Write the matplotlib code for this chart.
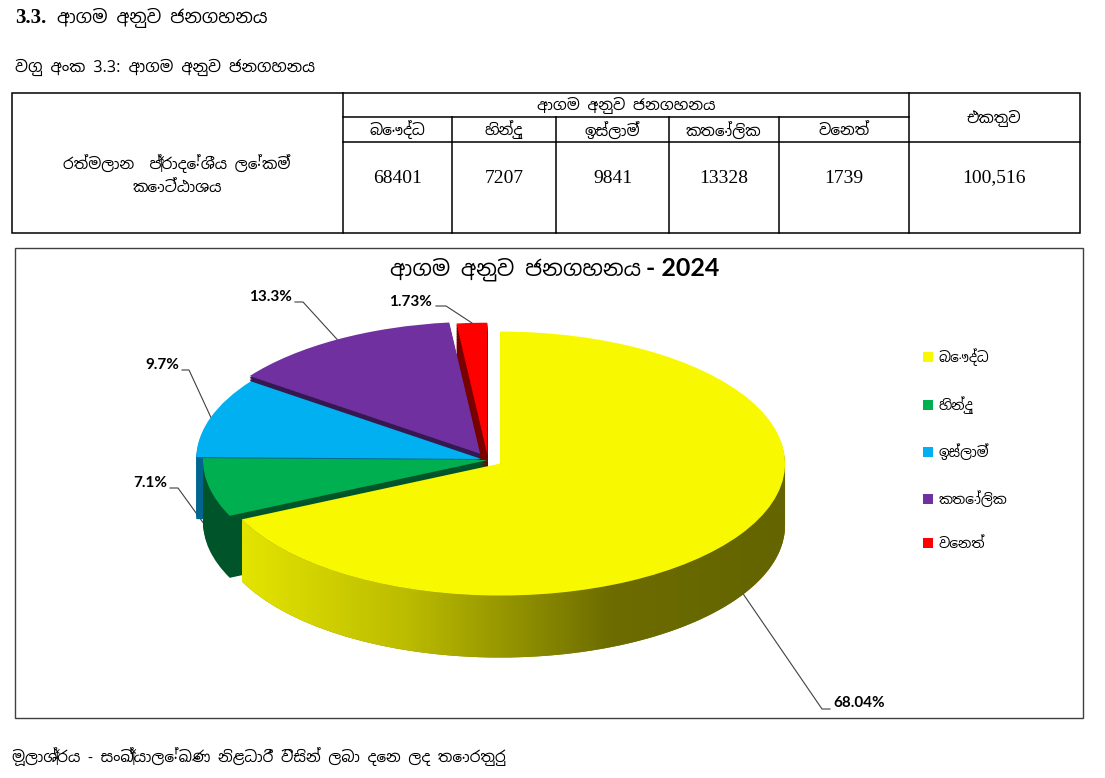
import numpy as np
import matplotlib
matplotlib.use("Agg")
import matplotlib.pyplot as plt
from matplotlib import font_manager
from matplotlib.colors import LinearSegmentedColormap
from matplotlib.patches import Polygon, Rectangle

# Data
religions = ["බෞද්ධ", "හින්දු", "ඉස්ලාම්", "කතෝලික", "වෙනත්"]
population = [68401, 7207, 9841, 13328, 1739]
total_label = "100,516"
pct_labels = ["68.04%", "7.1%", "9.7%", "13.3%", "1.73%"]
region_label = ["රත්මලාන  ප්‍රාදේශීය ලේකම්", "කොට්ඨාශය"]

top_colors = ["#f8f800", "#00b050", "#00b0f0", "#7030a0", "#ff0000"]
side_colors = ["#8c8c00", "#00542a", "#00668f", "#361850", "#780000"]
explode = [0.05, 0.0, 0.025, 0.055, 0.04]

W, H = 1105, 778
fig = plt.figure(figsize=(W / 100, H / 100), dpi=100)

# Sinhala font if one is installed
sin_font = None
for f in font_manager.fontManager.ttflist:
    if "sinhala" in f.name.lower() or "iskoola" in f.name.lower():
        sin_font = f.name
        break
SIN = [sin_font, "DejaVu Sans"] if sin_font else ["DejaVu Sans"]
SERIF = ["Liberation Serif", "DejaVu Serif"]
LBL = ["Lato", "DejaVu Sans"]

# background axes in pixel coordinates
bg = fig.add_axes([0, 0, 1, 1])
bg.set_xlim(0, W)
bg.set_ylim(H, 0)
bg.axis("off")

# headings
bg.text(15, 18, "3.3.", family=SERIF, fontsize=15, fontweight="bold", va="center")
bg.text(57, 18, "ආගම අනුව ජනගහනය", family=SIN, fontsize=13, va="center")
bg.text(15, 67, "වගු අංක 3.3: ආගම අනුව ජනගහනය", family=SIN, fontsize=11.5, va="center")

# table
col_x = [343, 452, 556, 669, 779, 909]
bg.add_patch(Rectangle((12, 93), 1068, 140, fill=False, lw=1.1, ec="black"))
bg.plot([343, 343], [93, 233], color="black", lw=1.1)
bg.plot([909, 909], [93, 233], color="black", lw=1.1)
for x in col_x[1:-1]:
    bg.plot([x, x], [117, 233], color="black", lw=1.1)
bg.plot([343, 909], [117, 117], color="black", lw=1.1)
bg.plot([343, 1080], [142, 142], color="black", lw=1.1)

bg.text(626, 105, "ආගම අනුව ජනගහනය", family=SIN, fontsize=11, ha="center", va="center")
bg.text(994, 118, "එකතුව", family=SIN, fontsize=11, ha="center", va="center")
for i, name in enumerate(religions):
    mx = (col_x[i] + col_x[i + 1]) / 2
    bg.text(mx, 130, name, family=SIN, fontsize=11, ha="center", va="center")
    bg.text(mx, 178, str(population[i]), family=SERIF, fontsize=14, ha="center", va="center")
bg.text(994, 178, total_label, family=SERIF, fontsize=14, ha="center", va="center")
bg.text(177, 164, region_label[0], family=SIN, fontsize=11, ha="center", va="center")
bg.text(177, 187, region_label[1], family=SIN, fontsize=11, ha="center", va="center")

# chart frame and title
bg.add_patch(Rectangle((15, 248), 1068, 470, fill=False, lw=1.0, ec="#404040"))
bg.text(641, 269, "ආගම අනුව ජනගහනය", family=SIN, fontsize=15.5,
        ha="right", va="center")
bg.text(646, 268, "- 2024", family=LBL, fontsize=18,
        fontweight="bold", ha="left", va="center")

# footer
bg.text(12, 757, "මූලාශ්‍රය - සංඛ්‍යාලේඛණ නිළධාරී විසින් ලබා දෙන ලද තොරතුරු",
        family=SIN, fontsize=11, va="center")

# pseudo 3D pie
cx, cy, rx, ry = 488, 460, 285, 132
left, right, top, bottom = 15, 1083, 248, 718
ax = fig.add_axes([left / W, 1 - bottom / H, (right - left) / W, (bottom - top) / H])

depth = 62 / ry
n_layers = 40
for k in range(n_layers, 0, -1):
    off = depth * k / n_layers
    ax.pie(population, explode=explode, startangle=90, counterclock=False,
           colors=side_colors, center=(0, -off),
           wedgeprops=dict(linewidth=0, zorder=1))

top_wedges, _ = ax.pie(population, explode=explode, startangle=90, counterclock=False,
                       colors=top_colors, wedgeprops=dict(linewidth=0, zorder=3))

# gradient on the front side of the big slice
yw = top_wedges[0]
c = np.array(yw.center)
t = np.radians(np.linspace(max(yw.theta1, -180), min(yw.theta2, 0), 200))
upper = np.column_stack([c[0] + yw.r * np.cos(t), c[1] + yw.r * np.sin(t)])
lower = upper - [0, depth]
side_poly = Polygon(np.vstack([upper, lower[::-1]]), closed=True,
                    transform=ax.transData, facecolor="none", edgecolor="none")
ax.add_patch(side_poly)
cmap = LinearSegmentedColormap.from_list(
    "olive", [(0, "#e4e400"), (0.3, "#bcbc00"), (0.68, "#6c6c00"), (1, "#646400")])
grad = np.linspace(0, 1, 256).reshape(1, -1)
x0, x1 = upper[:, 0].min(), upper[:, 0].max()
im = ax.imshow(grad, cmap=cmap, aspect="auto", zorder=2,
               extent=[x0, x1, upper[:, 1].min() - depth - 0.05, upper[:, 1].max() + 0.05])
im.set_clip_path(side_poly)

ax.set_aspect("auto")
ax.set_xlim((left - cx) / rx, (right - cx) / rx)
ax.set_ylim((cy - bottom) / ry, (cy - top) / ry)
ax.axis("off")


def to_px(x, y):
    return cx + x * rx, cy - y * ry


# percentage labels with leader lines
label_layout = [  # text x, text y, ha, line y, line x0, line x1, attach depth
    (833, 703, "left", 709, 830, 822, 0.42),
    (167, 483, "right", 488, 170, 178, 0.33),
    (179, 365, "right", 370, 182, 189, 0.0),
    (292, 297, "right", 302, 295, 303, 0.0),
    (432, 302, "right", 306, 436, 446, 0.0),
]
for w, lab, (tx, ty, ha, ly, lx0, lx1, dep) in zip(top_wedges, pct_labels, label_layout):
    mid = np.radians((w.theta1 + w.theta2) / 2)
    wx = w.center[0] + w.r * np.cos(mid)
    wy = w.center[1] + w.r * np.sin(mid) - dep
    px, py = to_px(wx, wy)
    bg.plot([lx0, lx1, px], [ly, ly, py], color="#404040", lw=0.8, zorder=5)
    bg.text(tx, ty, lab, family=LBL, fontsize=11, fontweight="bold", ha=ha, va="center")

# legend
ax.legend(top_wedges, religions, loc="upper left", bbox_to_anchor=(910 / W, 1 - 336 / H),
          bbox_transform=fig.transFigure, frameon=False, prop=dict(family=SIN, size=10),
          handlelength=0.75, handleheight=0.75, handletextpad=0.4, labelspacing=2.15)

fig.savefig("out.png", dpi=100)
